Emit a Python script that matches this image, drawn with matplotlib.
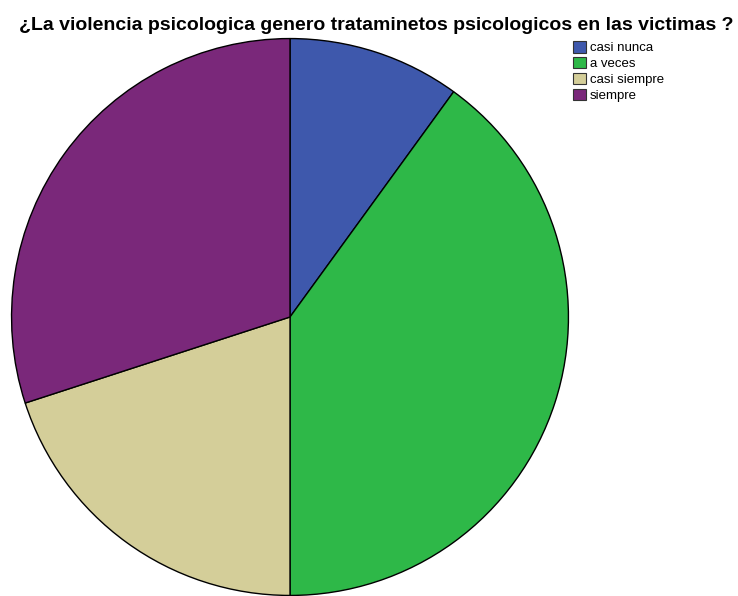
import matplotlib.pyplot as plt
from matplotlib.patches import Patch

labels = ["casi nunca", "a veces", "casi siempre", "siempre"]
values = [10, 40, 20, 30]
colors = ["#3e58ac", "#2eb848", "#d4ce99", "#7a287a"]
title = "¿La violencia psicologica genero trataminetos psicologicos en las victimas ?"

plt.rcParams["font.family"] = ["Liberation Sans", "DejaVu Sans"]

W, H = 738, 596
fig = plt.figure(figsize=(W / 100, H / 100), dpi=100)
fig.patch.set_facecolor("white")

# pie axes placed in pixel coordinates: center (290, 317), radius 279
cx, cy, r = 290, 317, 279
ax = fig.add_axes([(cx - r) / W, (H - cy - r) / H, 2 * r / W, 2 * r / H])
ax.pie(values, colors=colors, startangle=90, counterclock=False, radius=1,
       wedgeprops={"edgecolor": "black", "linewidth": 1})
ax.set_xlim(-1.002, 1.002)
ax.set_ylim(-1.002, 1.002)
ax.set_aspect("equal")
ax.axis("off")

fig.text(376 / W, 1 - 25 / H, title, ha="center", va="center",
         fontsize=14, fontweight="bold")

handles = [Patch(facecolor=c, edgecolor="#333333", linewidth=0.8) for c in colors]
fig.legend(handles, labels, loc="upper left", bbox_to_anchor=(564 / W, 1 - 32 / H),
           frameon=False, fontsize=9.5, handlelength=0.95, handleheight=0.95,
           handletextpad=0.3, labelspacing=0.2, borderpad=0.2)

fig.savefig("out.png", dpi=100)
